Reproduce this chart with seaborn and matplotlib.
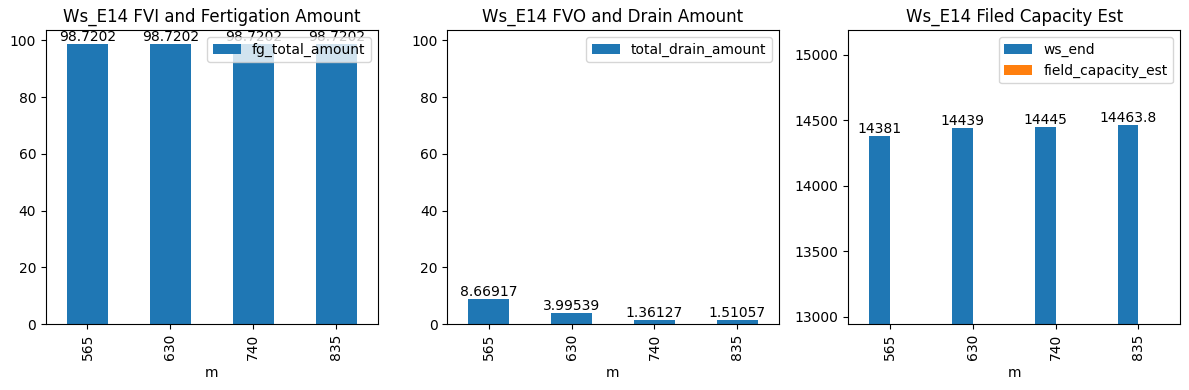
import numpy as np
import pandas as pd
import matplotlib
matplotlib.use("Agg")
import matplotlib.pyplot as plt
from matplotlib.ticker import MultipleLocator
import seaborn as sns

# values
m_labels = ["565", "630", "740", "835"]
fg_total_amount = [98.7202, 98.7202, 98.7202, 98.7202]
total_drain_amount = [8.66917, 3.99539, 1.36127, 1.51057]
ws_end = [14381, 14439, 14445, 14463.8]
field_capacity_est = [0, 0, 0, 0]  # falls below the visible y range

fig, axes = plt.subplots(1, 3, figsize=(11.89, 3.9), dpi=100)


def long_df(cols):
    parts = []
    for name, vals in cols.items():
        parts.append(pd.DataFrame({"m": m_labels, "value": vals, "series": name}))
    return pd.concat(parts, ignore_index=True)


def finish(ax, title):
    ax.set_title(title)
    ax.set_xlabel("m")
    ax.set_ylabel("")
    ax.tick_params(axis="x", rotation=90)
    ax.legend(title=None, loc="upper right")


# 1. fertigation
ax = axes[0]
df1 = long_df({"fg_total_amount": fg_total_amount})
sns.barplot(data=df1, x="m", y="value", hue="series", order=m_labels,
            palette=["#1f77b4"], saturation=1, width=0.5, ax=ax)
ax.bar_label(ax.containers[0], fmt="%g")
top = max(fg_total_amount) * 1.05
ax.set_ylim(0, top)
finish(ax, "Ws_E14 FVI and Fertigation Amount")

# 2. drain
ax = axes[1]
df2 = long_df({"total_drain_amount": total_drain_amount})
sns.barplot(data=df2, x="m", y="value", hue="series", order=m_labels,
            palette=["#1f77b4"], saturation=1, width=0.5, ax=ax)
ax.bar_label(ax.containers[0], fmt="%g")
ax.set_ylim(0, top)
finish(ax, "Ws_E14 FVO and Drain Amount")

# 3. field capacity
ax = axes[2]
df3 = long_df({"ws_end": ws_end, "field_capacity_est": field_capacity_est})
sns.barplot(data=df3, x="m", y="value", hue="series", order=m_labels,
            palette=["#1f77b4", "#ff7f0e"], saturation=1, width=0.5, ax=ax)
ax.bar_label(ax.containers[0], fmt="%g")
ax.set_ylim(min(ws_end) * 0.9, max(ws_end) * 1.05)
ax.yaxis.set_major_locator(MultipleLocator(500))
finish(ax, "Ws_E14 Filed Capacity Est")

plt.subplots_adjust(left=0.0387, right=0.9924, bottom=0.169, top=0.923, wspace=0.209)
plt.savefig("out.png", dpi=100)
